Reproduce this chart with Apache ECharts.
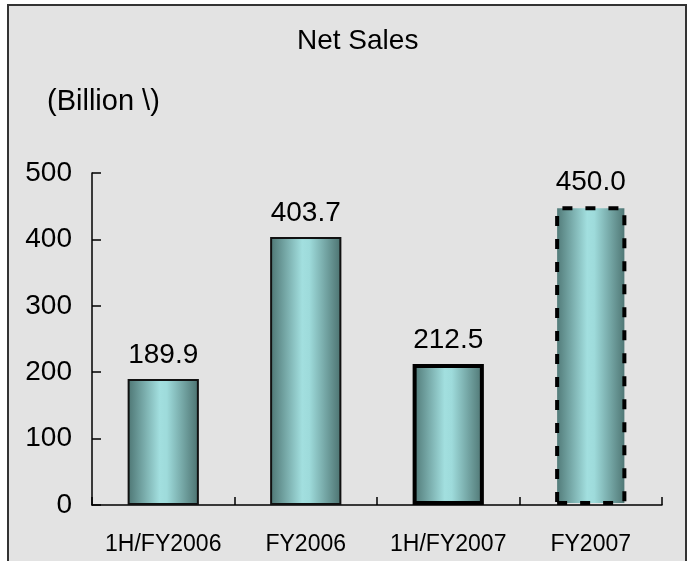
<!DOCTYPE html>
<html>
<head>
    <meta charset="utf-8">
    <title>Net Sales</title>
    <script src="https://cdn.jsdelivr.net/npm/echarts@6/dist/echarts.min.js"></script>
    <style>
        html, body { margin: 0; padding: 0; background: #ffffff; }
        #main { width: 696px; height: 561px; }
    </style>
</head>
<body>
<div id="main"></div>
<script>
    // data
    var periods = ['1H/FY2006', 'FY2006', '1H/FY2007', 'FY2007'];
    var netSales = [189.9, 403.7, 212.5, 450.0];
    var yTicks = [0, 100, 200, 300, 400, 500];

    var fontName = 'Liberation Sans';

    // teal cylinder look: dark edges, light middle
    var barFill = {
        type: 'linear', x: 0, y: 0, x2: 1, y2: 0,
        colorStops: [
            {offset: 0, color: '#4d7573'},
            {offset: 0.45, color: '#a2dfdf'},
            {offset: 0.55, color: '#9edbdb'},
            {offset: 1, color: '#4b716f'}
        ]
    };
    // outline per bar: thin, thin, thick, dashed (forecast)
    var outlines = [
        {borderColor: '#111', borderWidth: 2},
        {borderColor: '#111', borderWidth: 2},
        {borderColor: '#000', borderWidth: 4},
        {borderColor: '#000', borderWidth: 4, borderType: [10, 13]}
    ];

    var chart = echarts.init(document.getElementById('main'));
    var option = {
        backgroundColor: '#ffffff',
        animation: false,
        graphic: [{
            type: 'rect',
            z: -10,
            shape: {x: 8, y: 5, width: 678, height: 580},
            style: {fill: '#e3e3e3', stroke: '#333', lineWidth: 2}
        }],
        title: [{
            text: 'Net Sales',
            left: 297, top: 27,
            padding: 0,
            textStyle: {fontFamily: fontName, fontSize: 28, fontWeight: 'normal', color: '#000'}
        }, {
            text: '(Billion \\)',
            left: 47, top: 87,
            padding: 0,
            textStyle: {fontFamily: fontName, fontSize: 29, fontWeight: 'normal', color: '#000'}
        }],
        grid: {left: 92, right: 34, top: 173, bottom: 56, containLabel: false},
        xAxis: {
            type: 'category',
            data: periods,
            axisLine: {lineStyle: {color: '#000', width: 1.5}},
            axisTick: {show: true, inside: true, length: 8, lineStyle: {color: '#000', width: 1.5}},
            axisLabel: {interval: 0, margin: 28, fontFamily: fontName, fontSize: 23, color: '#000'}
        },
        yAxis: {
            type: 'value',
            min: yTicks[0],
            max: yTicks[yTicks.length - 1],
            interval: 100,
            splitLine: {show: false},
            axisLine: {show: true, lineStyle: {color: '#000', width: 1.5}},
            axisTick: {show: true, inside: true, length: 9, lineStyle: {color: '#000', width: 1.5}},
            axisLabel: {margin: 20, fontFamily: fontName, fontSize: 28, color: '#000'}
        },
        series: [{
            type: 'bar',
            barWidth: '50%',
            data: netSales.map(function (v, i) {
                return {value: v, itemStyle: Object.assign({color: barFill}, outlines[i])};
            }),
            label: {
                show: true,
                position: 'top',
                distance: 10,
                fontFamily: fontName,
                fontSize: 28,
                color: '#000',
                formatter: function (p) { return p.value.toFixed(1); }
            }
        }]
    };
    chart.setOption(option);
</script>
</body>
</html>
